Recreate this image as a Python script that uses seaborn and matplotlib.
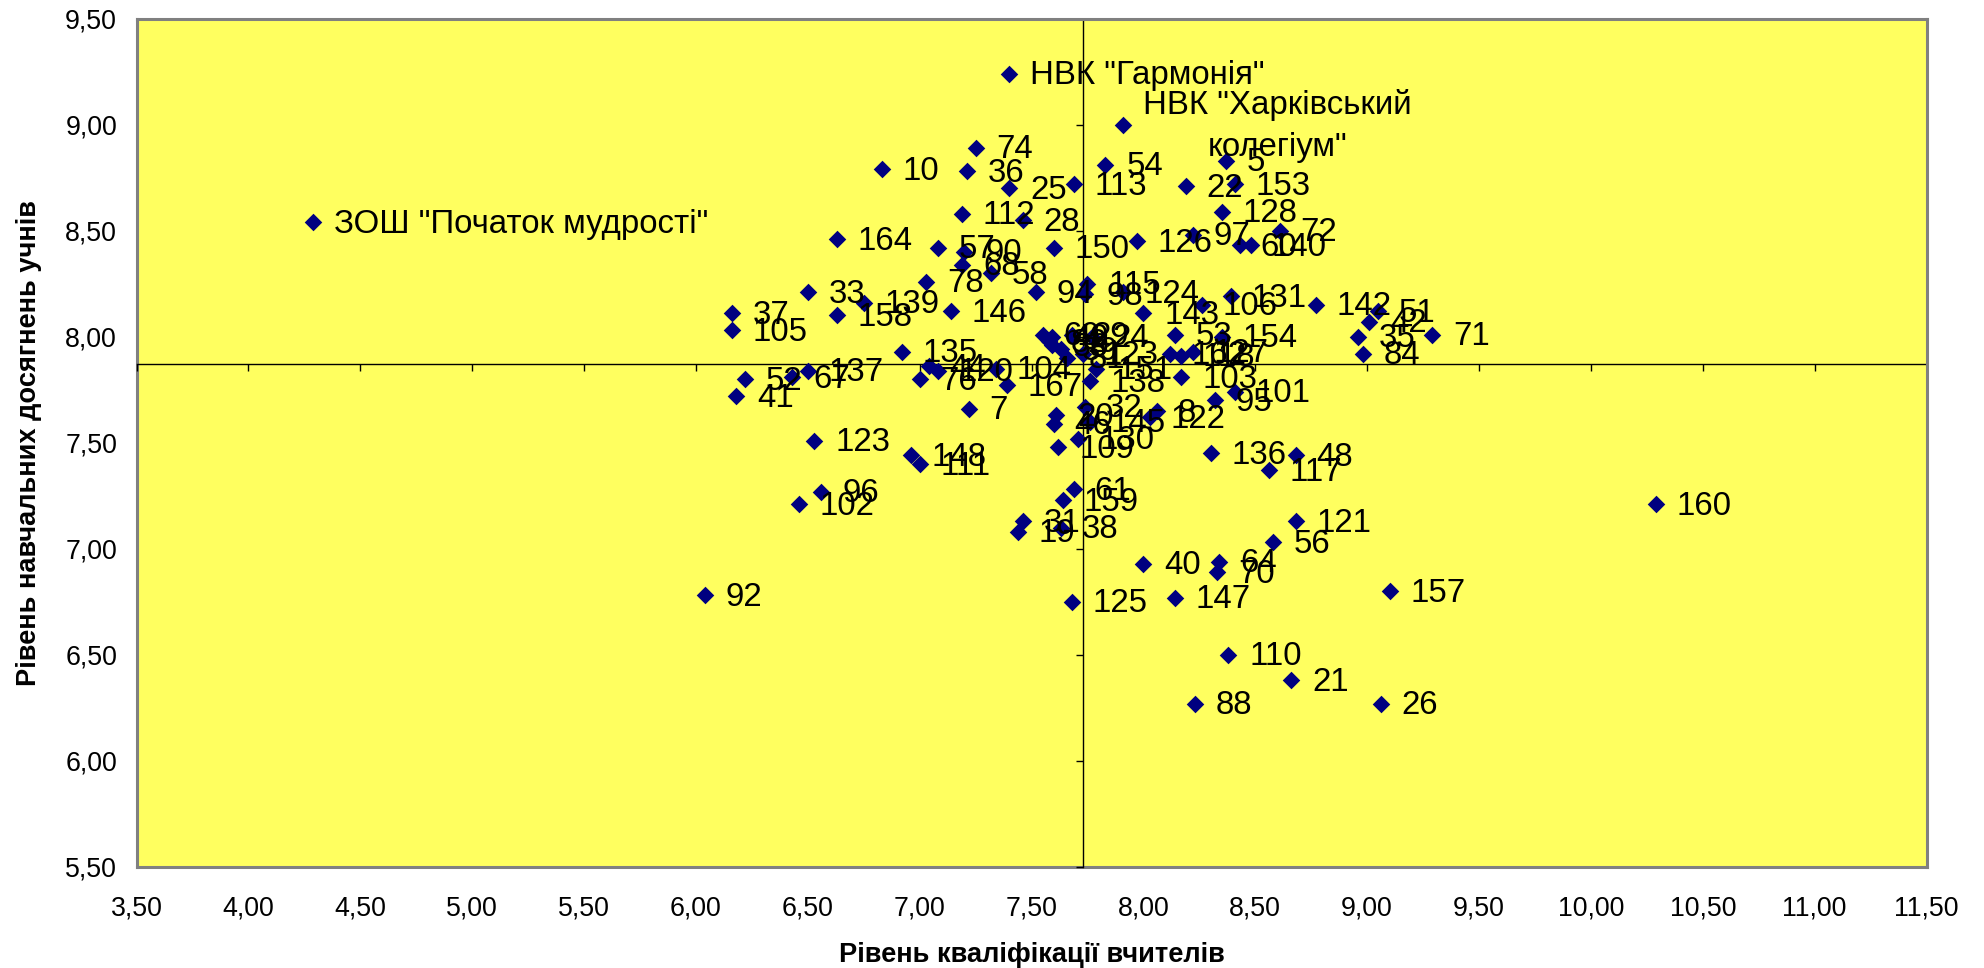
import matplotlib
matplotlib.use("Agg")
import matplotlib.pyplot as plt
import numpy as np
import pandas as pd
import seaborn as sns

labels = ['ЗОШ "Початок мудрості"', 'НВК "Гармонія"', 'НВК "Харківський\nколегіум"',
          '74', '10', '36', '25', '113', '54', '112', '28', '164', '57', '90', '68', '58', '78',
          '150', '126', '33', '139', '158', '146', '94', '115', '98', '124', '143', '106', '131',
          '142', '51', '42', '35', '71', '84', '5', '22', '153', '128', '72', '97', '60', '140',
          '53', '154', '162', '118', '127', '103', '95', '101', '8', '122', '136', '48', '117',
          '61', '159', '37', '105', '135', '52', '41', '67', '137', '76', '44', '120', '104',
          '7', '167', '123', '148', '111', '96', '102', '160', '121', '56', '157', '31', '19', '38',
          '40', '64', '70', '147', '125', '92', '110', '21', '26', '88',
          '69', '49', '82', '30', '39', '24', '29', '81', '123', '138', '151',
          '20', '46', '109', '130', '32', '145']
qual = [4.29, 7.40, 7.91,
        7.25, 6.83, 7.21, 7.40, 7.69, 7.83, 7.19, 7.46, 6.63, 7.08, 7.20, 7.19, 7.32, 7.03,
        7.60, 7.97, 6.50, 6.75, 6.63, 7.14, 7.52, 7.75, 7.74, 7.91, 8.00, 8.26, 8.39,
        8.77, 9.05, 9.01, 8.96, 9.29, 8.98, 8.37, 8.19, 8.41, 8.35, 8.61, 8.22, 8.43, 8.48,
        8.14, 8.35, 8.12, 8.17, 8.22, 8.17, 8.32, 8.41, 8.06, 8.03, 8.30, 8.68, 8.56,
        7.69, 7.64, 6.16, 6.16, 6.92, 6.22, 6.18, 6.43, 6.50, 7.00, 7.04, 7.08, 7.34,
        7.22, 7.39, 6.53, 6.96, 7.00, 6.56, 6.46, 10.29, 8.68, 8.58, 9.10, 7.46, 7.44, 7.63,
        8.00, 8.34, 8.33, 8.14, 7.68, 6.04, 8.38, 8.66, 9.06, 8.23,
        7.55, 7.59, 7.58, 7.59, 7.63, 7.77, 7.68, 7.66, 7.73, 7.76, 7.79,
        7.61, 7.60, 7.62, 7.71, 7.74, 7.76]
achieve = [8.54, 9.24, 9.00,
           8.89, 8.79, 8.78, 8.70, 8.72, 8.81, 8.58, 8.55, 8.46, 8.42, 8.40, 8.34, 8.30, 8.26,
           8.42, 8.45, 8.21, 8.16, 8.10, 8.12, 8.21, 8.25, 8.20, 8.21, 8.11, 8.15, 8.19,
           8.15, 8.12, 8.07, 8.00, 8.01, 7.92, 8.83, 8.71, 8.72, 8.59, 8.50, 8.48, 8.43, 8.43,
           8.01, 8.00, 7.92, 7.91, 7.93, 7.81, 7.70, 7.74, 7.65, 7.62, 7.45, 7.44, 7.37,
           7.28, 7.23, 8.11, 8.03, 7.93, 7.80, 7.72, 7.81, 7.84, 7.80, 7.86, 7.84, 7.85,
           7.66, 7.77, 7.51, 7.44, 7.40, 7.27, 7.21, 7.21, 7.13, 7.03, 6.80, 7.13, 7.08, 7.10,
           6.93, 6.94, 6.89, 6.77, 6.75, 6.78, 6.50, 6.38, 6.27, 6.27,
           8.01, 8.00, 7.98, 7.96, 7.94, 8.00, 8.01, 7.90, 7.92, 7.79, 7.85,
           7.63, 7.59, 7.48, 7.52, 7.67, 7.60]

x_ticks = [3.5, 4.0, 4.5, 5.0, 5.5, 6.0, 6.5, 7.0, 7.5, 8.0, 8.5, 9.0, 9.5, 10.0, 10.5, 11.0, 11.5]
y_ticks = [5.5, 6.0, 6.5, 7.0, 7.5, 8.0, 8.5, 9.0, 9.5]
x_title = "Рівень кваліфікації вчителів"
y_title = "Рівень навчальних досягнень учнів"
x_mean = 7.73
y_mean = 7.87

sns.set_theme(style="white")
plt.rcParams["font.family"] = ["Liberation Sans", "DejaVu Sans"]

df = pd.DataFrame({"q": qual, "a": achieve, "label": labels})

fig, ax = plt.subplots(figsize=(19.84, 9.68), dpi=100)
fig.subplots_adjust(left=136.5 / 1984, right=1926.5 / 1984, top=1 - 18.5 / 968, bottom=1 - 867 / 968)
ax.set_facecolor("#FFFF5F")

sns.scatterplot(data=df, x="q", y="a", marker="D", s=80, color="#000080",
                linewidth=0, ax=ax, zorder=3, clip_on=False)

for _, row in df.iterrows():
    if "\n" in row["label"]:
        ax.annotate(row["label"], (row["q"], row["a"]), xytext=(111, -1), textcoords="offset points",
                    ha="center", va="center", fontsize=23.8, linespacing=1.45, color="black", zorder=4)
    else:
        ax.annotate(row["label"], (row["q"], row["a"]), xytext=(15, -1.5), textcoords="offset points",
                    ha="left", va="center", fontsize=23.8, color="black", zorder=4)

ax.set_xlim(x_ticks[0], x_ticks[-1])
ax.set_ylim(y_ticks[0], y_ticks[-1])
ax.set_xticks(x_ticks)
ax.set_yticks(y_ticks)
ax.set_xticklabels([])
ax.set_yticklabels([])
ax.set_xlabel("")
ax.set_ylabel("")
ax.spines["bottom"].set_position(("data", y_mean))
ax.spines["left"].set_position(("data", x_mean))
for s in ("bottom", "left"):
    ax.spines[s].set_color("black")
    ax.spines[s].set_linewidth(1.0)
    ax.spines[s].set_zorder(2)
for s in ("top", "right"):
    ax.spines[s].set_color("#808080")
    ax.spines[s].set_linewidth(2.2)
ax.tick_params(axis="both", direction="out", length=5, width=1, color="black",
               bottom=True, left=True, labelbottom=False, labelleft=False)

fmt = lambda v: f"{v:.2f}".replace(".", ",")
secx = ax.secondary_xaxis("bottom")
secx.set_xticks(x_ticks)
secx.set_xticklabels([fmt(v) for v in x_ticks], fontsize=19.3, color="black")
secx.tick_params(axis="x", length=0, pad=20.5)
secx.spines["bottom"].set_color("#808080")
secx.spines["bottom"].set_linewidth(2.2)
secx.set_xlabel(x_title, fontsize=19.6, fontweight="bold", color="black", labelpad=14.5)

secy = ax.secondary_yaxis("left")
secy.set_yticks(y_ticks)
secy.set_yticklabels([fmt(v) for v in y_ticks], fontsize=19.3, color="black")
secy.tick_params(axis="y", length=0, pad=14)
secy.spines["left"].set_color("#808080")
secy.spines["left"].set_linewidth(2.2)
secy.set_ylabel(y_title, fontsize=19.6, fontweight="bold", color="black", labelpad=17)

fig.savefig("out.png", dpi=100, facecolor="white")
